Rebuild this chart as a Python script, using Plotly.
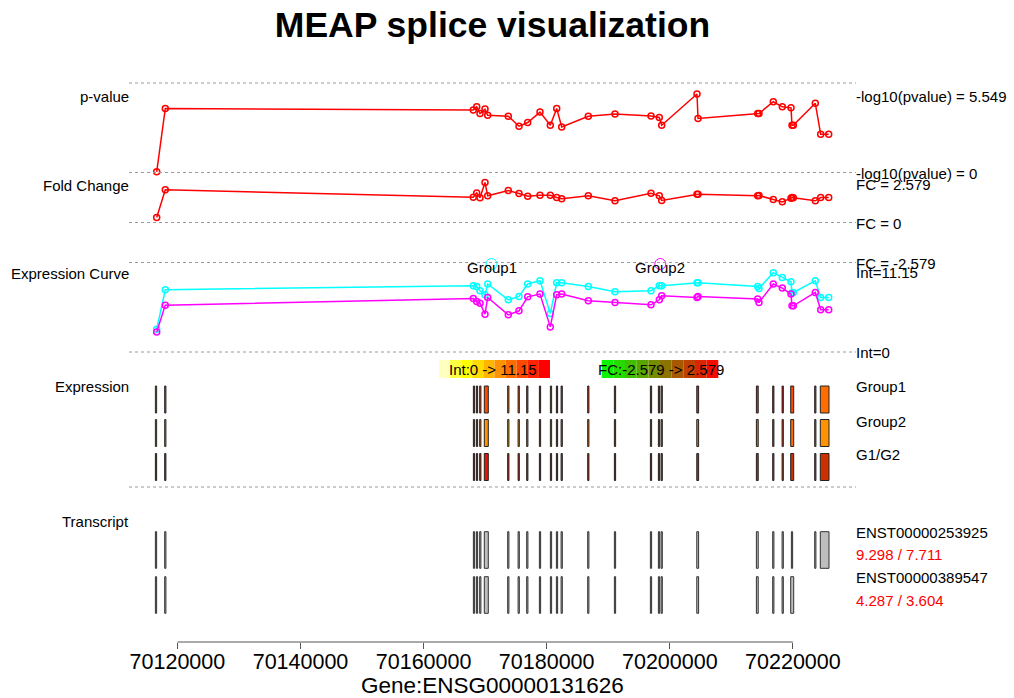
import plotly.graph_objects as go

FONT = "Liberation Sans, Arial, Helvetica, sans-serif"

# ---------------- data ----------------
gene_id = "ENSG00000131626"
axis_ticks = [70120000, 70140000, 70160000, 70180000, 70200000, 70220000]

# exon-bin positions (bp) and statistics
point_pos = [70116637, 70118034, 70168075, 70168627, 70169163, 70169976, 70170414,
             70173761, 70175500, 70176913, 70178912, 70180585, 70181625, 70182437,
             70186759, 70191097, 70196946, 70198294, 70198684, 70204419, 70204582,
             70214281, 70214493, 70216816, 70218278, 70219692, 70219854, 70220066,
             70223640, 70224517, 70225817]
neg_log10_p = [0.05, 4.53, 4.41, 4.64, 4.17, 4.48, 4.05, 3.98, 3.27, 3.53, 4.27,
               3.34, 4.53, 3.22, 3.98, 4.13, 4.00, 3.89, 3.34, 5.549, 3.82, 4.17,
               4.17, 5.00, 4.64, 4.57, 3.34, 3.34, 4.89, 2.70, 2.70]
fold_change = [0.32, 2.11, 1.63, 1.91, 1.59, 2.579, 1.72, 2.06, 1.87, 1.70, 1.76,
               1.76, 1.61, 1.53, 1.72, 1.40, 1.89, 1.72, 1.42, 1.82, 1.82, 1.72,
               1.74, 1.48, 1.33, 1.57, 1.61, 1.59, 1.40, 1.61, 1.61]
int_group1 = [3.20, 8.75, 9.32, 9.22, 8.61, 8.05, 9.56, 7.34, 7.81, 9.56, 10.02,
              5.41, 9.74, 9.74, 9.22, 8.47, 8.61, 9.32, 9.32, 9.74, 9.74, 9.22,
              8.93, 11.15, 10.49, 9.88, 8.29, 8.37, 10.02, 7.66, 7.66]
int_group2 = [2.82, 6.59, 7.52, 7.10, 6.87, 5.32, 7.66, 5.22, 5.79, 7.76, 8.14,
              3.53, 8.05, 8.14, 7.20, 6.96, 6.63, 7.34, 7.90, 7.66, 7.81, 7.44,
              6.96, 9.56, 8.99, 8.14, 6.49, 6.49, 8.37, 5.93, 5.93]

# union of exons (expression panel)
exon_starts = [70116423, 70117934, 70168089, 70168576, 70169112, 70169862, 70173661,
               70175351, 70176748, 70178812, 70180599, 70181574, 70182337, 70186659,
               70190997, 70196846, 70198146, 70198584, 70204383, 70214066, 70216716,
               70218243, 70219643, 70223540, 70224452]
exon_ends = [70116623, 70118134, 70168289, 70168776, 70169312, 70170512, 70173861,
             70175551, 70176948, 70179012, 70180799, 70181774, 70182537, 70186859,
             70191197, 70197046, 70198346, 70198784, 70204683, 70214366, 70216916,
             70218443, 70220131, 70223740, 70225866]

# transcripts
tx_names = ["ENST00000253925", "ENST00000389547"]
tx_expr_g1 = [9.298, 4.287]
tx_expr_g2 = [7.711, 3.604]
tx1_starts = exon_starts[:22] + [70219754, 70223540, 70224452]
tx1_ends = exon_ends[:22] + [70219954, 70223740, 70225866]
tx2_starts = exon_starts[:23]
tx2_ends = exon_ends[:23]

group_names = ["Group1", "Group2"]
p_max = max(neg_log10_p)
fc_max = max(abs(v) for v in fold_change)
int_max = max(int_group1 + int_group2)

# ---------------- layout helpers ----------------
W, H = 1014, 698
L, R, T, B = 129, 158, 83, 56
PH = H - T - B
PW = W - L - R


def py(p):
    return (H - B - p) / PH


def px(p):
    return (p - L) / PW


HEAT = ["#FFFFBF", "#FFFF40", "#FFFF00", "#FFDB00", "#FFB600",
        "#FF9200", "#FF6D00", "#FF4900", "#FF2400", "#FF0000"]


def int_color(v):
    i = min(int(v / int_max * len(HEAT)), len(HEAT) - 1)
    return HEAT[max(i, 0)]


def fc_color(v):
    t = (v + fc_max) / (2 * fc_max)
    t = min(max(t, 0), 1)
    return "rgb(%d,%d,0)" % (round(255 * t), round(255 * (1 - t)))


FC_STEPS = [fc_color(-fc_max + 2 * fc_max * (k + 0.5) / 10) for k in range(10)]

# assign each bin to nearest exon and average values
centers = [(s + e) / 2 for s, e in zip(exon_starts, exon_ends)]
widths = [e - s for s, e in zip(exon_starts, exon_ends)]
groups = [[] for _ in centers]
for i, p in enumerate(point_pos):
    j = min(range(len(centers)), key=lambda k: abs(centers[k] - p))
    groups[j].append(i)


def avg(vals, idx):
    return sum(vals[i] for i in idx) / len(idx) if idx else 0


g1_cols = [int_color(avg(int_group1, g)) for g in groups]
g2_cols = [int_color(avg(int_group2, g)) for g in groups]
fc_cols = [fc_color(avg(fold_change, g)) for g in groups]

fig = go.Figure()


def curve(y, color, axis):
    fig.add_trace(go.Scatter(x=point_pos, y=y, mode="lines+markers",
                             line=dict(color=color, width=1.5),
                             marker=dict(symbol="circle-open", size=6, color=color, line=dict(width=1.5)),
                             xaxis="x", yaxis=axis, hoverinfo="skip", cliponaxis=False))


curve(neg_log10_p, "#FF0000", "y")
curve(fold_change, "#FF0000", "y2")
curve(int_group1, "#00FFFF", "y3")
curve(int_group2, "#FF00FF", "y3")

# group legend in the curve panel
legend_x = [70171032, 70198457]
legend_y = 12.37
fig.add_trace(go.Scatter(x=legend_x, y=[legend_y] * 2, mode="markers",
                         marker=dict(symbol="circle-open", size=11, color=["#00FFFF", "#FF00FF"], line=dict(width=1)),
                         xaxis="x", yaxis="y3", hoverinfo="skip", cliponaxis=False))

# expression bars
ROW_H = 27
for base, cols in [(74, g1_cols), (40.5, g2_cols), (6.5, fc_cols)]:
    fig.add_trace(go.Bar(x=centers, y=[ROW_H] * len(centers), base=[base] * len(centers),
                         width=widths, marker=dict(color=cols, line=dict(color="#222222", width=1)),
                         xaxis="x", yaxis="y4", hoverinfo="skip"))

# transcripts
TX_H = 36.6
for base, st, en in [(73.7, tx1_starts, tx1_ends), (28.7, tx2_starts, tx2_ends)]:
    c = [(s + e) / 2 for s, e in zip(st, en)]
    w = [e - s for s, e in zip(st, en)]
    fig.add_trace(go.Bar(x=c, y=[TX_H] * len(c), base=[base] * len(c), width=w,
                         marker=dict(color="#BEBEBE", line=dict(color="#333333", width=1)),
                         xaxis="x", yaxis="y5", hoverinfo="skip"))

shapes = []
for p in [83, 172.5, 222.5, 262.5, 352, 487]:
    shapes.append(dict(type="line", xref="paper", yref="paper", x0=0, x1=1, y0=py(p), y1=py(p),
                       line=dict(color="#9A9A9A", width=1, dash="dot")))
# R-style axis line
shapes.append(dict(type="line", xref="x", yref="paper", x0=axis_ticks[0], x1=axis_ticks[-1],
                   y0=0, y1=0, line=dict(color="#555555", width=1)))
# colour keys
for k, col in enumerate(HEAT):
    x0 = 439 + k * 11.1
    shapes.append(dict(type="rect", xref="paper", yref="paper", x0=px(x0), x1=px(x0 + 11.1),
                       y0=py(378), y1=py(360), fillcolor=col, line=dict(width=0), layer="below"))
for k, col in enumerate(FC_STEPS):
    x0 = 601.7 + k * 11.66
    shapes.append(dict(type="rect", xref="paper", yref="paper", x0=px(x0), x1=px(x0 + 11.66),
                       y0=py(378), y1=py(360), fillcolor=col, line=dict(width=0), layer="below"))

ann = []


def label(text, x, y, anchor, color="black", size=15, xshift=0):
    ann.append(dict(text=text, xref="paper", yref="paper", x=x, y=py(y), xanchor=anchor,
                    yanchor="middle", showarrow=False, xshift=xshift,
                    font=dict(size=size, color=color, family=FONT)))


for t, y in [("p-value", 96), ("Fold Change", 185), ("Expression Curve", 273),
             ("Expression", 386), ("Transcript", 521)]:
    label(t, 0, y, "right", xshift=2)

right = [("-log10(pvalue) = %g" % p_max, 96), ("-log10(pvalue) = 0", 173),
         ("FC = %g" % fc_max, 184), ("FC = 0", 223), ("FC = -%g" % fc_max, 263),
         ("Int=%g" % int_max, 272), ("Int=0", 352),
         (group_names[0], 386), (group_names[1], 421), ("G1/G2", 455),
         (tx_names[0], 532), (tx_names[1], 577)]
for t, y in right:
    label(t, 1, y, "left", xshift=-2)
label("%g / %g" % (tx_expr_g1[0], tx_expr_g2[0]), 1, 554, "left", color="#FF0000", xshift=-2)
label("%g / %g" % (tx_expr_g1[1], tx_expr_g2[1]), 1, 600, "left", color="#FF0000", xshift=-2)

label("Int:0 -> %g" % int_max, px(493), 369, "center")
label("FC:-%g -> %g" % (fc_max, fc_max), px(661), 369, "center")

for gx, gname in zip(legend_x, group_names):
    ann.append(dict(text=gname, xref="x", yref="y3", x=gx, y=11.95, xanchor="center",
                    yanchor="middle", showarrow=False, font=dict(size=15, color="black", family=FONT)))

ann.append(dict(text="Gene:" + gene_id, xref="paper", yref="paper", x=0.5, y=py(685),
                xanchor="center", yanchor="middle", showarrow=False, borderpad=0,
                font=dict(size=22.5, color="black", family=FONT)))

hidden = dict(visible=False, fixedrange=True, showgrid=False, zeroline=False)
fig.update_layout(
    width=W, height=H,
    margin=dict(l=L, r=R, t=T, b=B, pad=0),
    paper_bgcolor="white", plot_bgcolor="white",
    showlegend=False, barmode="overlay",
    title=dict(text="<b>MEAP splice visualization</b>", x=0.5, xref="paper", xanchor="center",
               y=1 - 25 / H, yref="container", yanchor="middle",
               font=dict(size=35.5, color="black", family=FONT)),
    xaxis=dict(range=[70112136, 70230252], tickvals=axis_ticks, ticktext=[str(t) for t in axis_ticks],
               ticks="outside", ticklen=6, tickcolor="#555555", tickwidth=1, ticklabelstandoff=-6,
               showline=False, showgrid=False, zeroline=False, anchor="y5",
               tickfont=dict(size=21.5, color="black", family=FONT), fixedrange=True),
    yaxis=dict(domain=[py(172.5), 1], range=[0, p_max * 89.5 / 78.5], **hidden),
    yaxis2=dict(domain=[py(262.5), py(172.5)], range=[-fc_max, fc_max * 50 / 40], anchor="x", **hidden),
    yaxis3=dict(domain=[py(352), py(262.5)], range=[0, int_max * 89.5 / 79.3], anchor="x", **hidden),
    yaxis4=dict(domain=[py(487), py(352)], range=[0, 135], anchor="x", **hidden),
    yaxis5=dict(domain=[0, py(487)], range=[0, 155], anchor="x", **hidden),
    shapes=shapes, annotations=ann,
)

fig.write_html("out.html")
